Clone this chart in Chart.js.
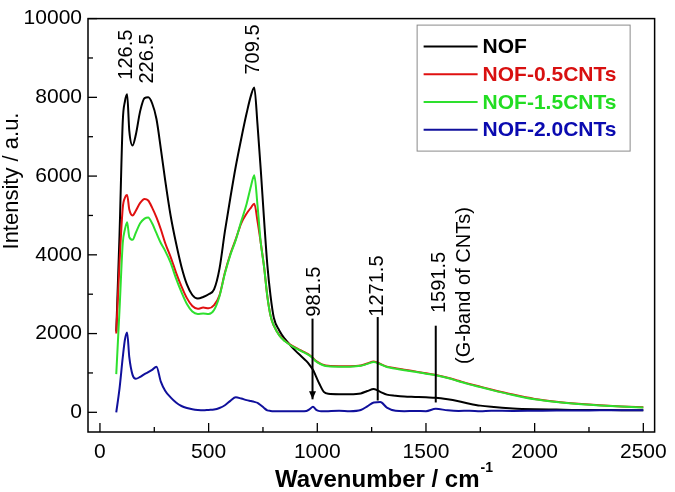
<!DOCTYPE html>
<html>
<head>
<meta charset="utf-8">
<title>Raman spectra - NOF / CNTs</title>
<script src="https://cdn.jsdelivr.net/npm/chart.js@4.4.0/dist/chart.umd.min.js"></script>
<style>
  html, body { margin: 0; padding: 0; background: #fff; }
  #wrap { width: 675px; height: 492px; }
</style>
</head>
<body>
<div id="wrap"><canvas id="raman" width="675" height="492"></canvas></div>
<script>
// Spectra (wavenumber in cm-1, intensity in a.u.)
const wavenumber = [75, 90, 105, 115, 125, 135, 150, 165, 185, 205,
  222, 240, 260, 280, 300, 325, 350, 375, 400, 425,
  450, 475, 500, 525, 550, 575, 600, 625, 650, 675,
  695, 710, 725, 740, 755, 770, 785, 800, 825, 850,
  875, 900, 925, 950, 965, 980, 995, 1010, 1030, 1050,
  1100, 1150, 1200, 1230, 1260, 1290, 1320, 1360, 1400, 1450,
  1500, 1545, 1600, 1650, 1700, 1750, 1800, 1900, 2000, 2100,
  2200, 2300, 2400, 2500];

const nof = [2050, 4500, 7400, 7900, 8080, 7150, 6780, 7050, 7650, 7980,
  8000, 7850, 7450, 6700, 5900, 5000, 4300, 3700, 3250, 2980,
  2890, 2930, 3000, 3120, 3650, 4600, 5450, 6250, 6950, 7600,
  8050, 8250, 7300, 6150, 4900, 3750, 2950, 2400, 2080, 1870,
  1710, 1560, 1430, 1300, 1200, 1080, 900, 720, 520, 470,
  460, 460, 480, 540, 590, 520, 450, 420, 400, 390,
  380, 370, 330, 280, 220, 170, 140, 100, 80, 70,
  60, 60, 55, 55];

const nof05 = [2000, 3800, 5200, 5450, 5520, 5150, 5000, 5120, 5320, 5420,
  5380, 5200, 4950, 4650, 4300, 3950, 3550, 3200, 2900, 2700,
  2630, 2660, 2640, 2720, 2970, 3550, 4020, 4400, 4800, 5050,
  5200, 5300, 4850, 4300, 3700, 2950, 2450, 2200, 1960, 1820,
  1720, 1640, 1570, 1500, 1450, 1380, 1300, 1250, 1200, 1180,
  1170, 1170, 1190, 1240, 1290, 1230, 1160, 1120, 1080, 1040,
  990, 950, 880, 800, 720, 650, 580, 450, 340, 270,
  220, 180, 150, 130];

const nof15 = [970, 2600, 4300, 4650, 4830, 4450, 4380, 4560, 4800, 4920,
  4950, 4800, 4550, 4300, 4100, 3800, 3400, 3050, 2750, 2560,
  2500, 2510, 2500, 2600, 2950, 3530, 4000, 4380, 4850, 5300,
  5750, 6020, 5250, 4300, 3700, 2950, 2450, 2200, 1950, 1810,
  1710, 1630, 1560, 1490, 1440, 1370, 1290, 1240, 1190, 1170,
  1160, 1160, 1180, 1230, 1280, 1220, 1150, 1110, 1070, 1030,
  980, 940, 870, 790, 710, 640, 570, 440, 330, 260,
  210, 175, 145, 125];

const nof20 = [0, 600, 1400, 1850, 2030, 1400, 950, 850, 900, 970,
  1020, 1080, 1160, 780, 550, 380, 250, 160, 110, 80,
  60, 50, 60, 70, 110, 180, 290, 380, 350, 310,
  285, 265, 240, 180, 110, 50, 35, 30, 30, 25,
  30, 30, 25, 35, 80, 140, 60, 30, 25, 30,
  40, 30, 60, 150, 250, 260, 120, 40, 30, 35,
  30, 90, 50, 35, 40, 30, 40, 35, 40, 45,
  45, 50, 50, 50];

const seriesNames = ['NOF', 'NOF-0.5CNTs', 'NOF-1.5CNTs', 'NOF-2.0CNTs'];

const xTicks = [0, 500, 1000, 1500, 2000, 2500];
const xMinor = [250, 750, 1250, 1750, 2250];
const yTicks = [0, 2000, 4000, 6000, 8000, 10000];
const yMinor = [1000, 3000, 5000, 7000, 9000];

// peak labels: where they sit (wavenumber) and the intensity of the text start
const peakLabels = ['126.5', '226.5', '709.5', '981.5', '1271.5', '1591.5'];
const peakPos = [123, 219, 708, 985, 1278, 1560];
const peakTextBase = [8450, 8350, 8580, 2430, 2430, 2520];
// marker lines under the last three labels
const markerPos = [978, 1278, 1545];
const markerTop = [2380, 2420, 2200];
const markerTip = [330, 300, 250];

const FONT = '"Liberation Sans", Arial, sans-serif';
const colors = ['#000000', '#e01010', '#2ee02e', '#10109c'];
const legendText = ['#000000', '#d81010', '#22dd22', '#0a0ab0'];

function pts(ys) {
  return wavenumber.map((w, i) => ({ x: w, y: ys[i] }));
}

function vText(ctx, str, px, py) {
  ctx.save();
  ctx.translate(px, py);
  ctx.rotate(-Math.PI / 2);
  ctx.fillText(str, 0, 0);
  ctx.restore();
}

const decorations = {
  id: 'decorations',
  afterDatasetsDraw(chart) {
    const { ctx, chartArea: area, scales: { x, y } } = chart;
    ctx.save();

    // box frame + inward ticks
    ctx.strokeStyle = '#000';
    ctx.lineWidth = 1.5;
    ctx.strokeRect(area.left, area.top, area.right - area.left, area.bottom - area.top);
    ctx.lineWidth = 1.3;
    const tick = (px, py, dx, dy) => {
      ctx.beginPath();
      ctx.moveTo(px, py);
      ctx.lineTo(px + dx, py + dy);
      ctx.stroke();
    };
    xTicks.forEach(v => tick(x.getPixelForValue(v), area.bottom, 0, -9));
    xMinor.forEach(v => tick(x.getPixelForValue(v), area.bottom, 0, -5));
    yTicks.forEach(v => tick(area.left, y.getPixelForValue(v), 9, 0));
    yMinor.forEach(v => tick(area.left, y.getPixelForValue(v), 5, 0));

    // peak annotations
    ctx.fillStyle = '#000';
    ctx.font = '20px ' + FONT;
    ctx.textAlign = 'left';
    ctx.textBaseline = 'middle';
    peakLabels.forEach((lab, i) => {
      vText(ctx, lab, x.getPixelForValue(peakPos[i]), y.getPixelForValue(peakTextBase[i]));
    });
    vText(ctx, '(G-band of CNTs)', x.getPixelForValue(1676), y.getPixelForValue(1230));

    ctx.lineWidth = 2;
    markerPos.forEach((w, i) => {
      const px = x.getPixelForValue(w);
      const top = y.getPixelForValue(markerTop[i]);
      const tip = y.getPixelForValue(markerTip[i]);
      ctx.beginPath();
      ctx.moveTo(px, top);
      ctx.lineTo(px, tip);
      ctx.stroke();
      if (i === 0) {
        ctx.beginPath();
        ctx.moveTo(px - 3.5, tip - 8);
        ctx.lineTo(px, tip);
        ctx.lineTo(px + 3.5, tip - 8);
        ctx.closePath();
        ctx.fill();
      }
    });

    // legend box
    const lx = area.right - 238, ly = area.top + 6;
    ctx.strokeStyle = '#8a8a8a';
    ctx.lineWidth = 1;
    ctx.strokeRect(lx + 0.5, ly + 0.5, 213, 126);
    ctx.font = 'bold 21px ' + FONT;
    chart.data.datasets.forEach((ds, i) => {
      const ry = ly + 22 + i * 27.7;
      ctx.strokeStyle = ds.borderColor;
      ctx.lineWidth = 2;
      ctx.beginPath();
      ctx.moveTo(lx + 7, ry);
      ctx.lineTo(lx + 61, ry);
      ctx.stroke();
      ctx.fillStyle = legendText[i];
      ctx.fillText(ds.label, lx + 66, ry + 1);
    });

    // axis titles
    ctx.fillStyle = '#000';
    ctx.font = '22px ' + FONT;
    ctx.textAlign = 'center';
    ctx.textBaseline = 'middle';
    vText(ctx, 'Intensity / a.u.', 12, 181);

    ctx.textAlign = 'left';
    ctx.textBaseline = 'alphabetic';
    ctx.font = 'bold 24px ' + FONT;
    const xt = 'Wavenumber / cm';
    ctx.fillText(xt, 275, 487);
    const tw = ctx.measureText(xt).width;
    ctx.font = 'bold 14px ' + FONT;
    ctx.fillText('-1', 275 + tw + 1, 472);

    ctx.restore();
  }
};

const series = [nof, nof05, nof15, nof20];
// later spectra sit on top: green hides red in the tail, blue on top
const drawOrder = [3, 2, 1, 0];

new Chart(document.getElementById('raman'), {
  type: 'line',
  data: {
    datasets: series.map((ys, i) => ({
      label: seriesNames[i],
      data: pts(ys),
      borderColor: colors[i],
      borderWidth: 2,
      pointRadius: 0,
      fill: false,
      cubicInterpolationMode: 'monotone',
      order: drawOrder[i]
    }))
  },
  options: {
    responsive: false,
    animation: false,
    layout: { padding: { top: 12, right: 16, left: 0, bottom: 0 } },
    scales: {
      x: {
        type: 'linear',
        min: -55,
        max: 2552,
        afterBuildTicks: s => { s.ticks = xTicks.map(v => ({ value: v })); },
        afterFit: s => { s.height = 60; },
        grid: { display: false, drawTicks: false },
        border: { display: false },
        ticks: { color: '#000', padding: 8, maxRotation: 0, autoSkip: false,
                 callback: v => String(v),
                 font: { family: FONT, size: 21 } }
      },
      y: {
        min: -500,
        max: 10000,
        afterBuildTicks: s => { s.ticks = yTicks.map(v => ({ value: v })); },
        afterFit: s => { s.width = 88; },
        grid: { display: false, drawTicks: false },
        border: { display: false },
        ticks: { color: '#000', padding: 6, callback: v => String(v),
                 font: { family: FONT, size: 21 } }
      }
    },
    plugins: {
      legend: { display: false },
      tooltip: { enabled: false }
    }
  },
  plugins: [decorations]
});
</script>
</body>
</html>
